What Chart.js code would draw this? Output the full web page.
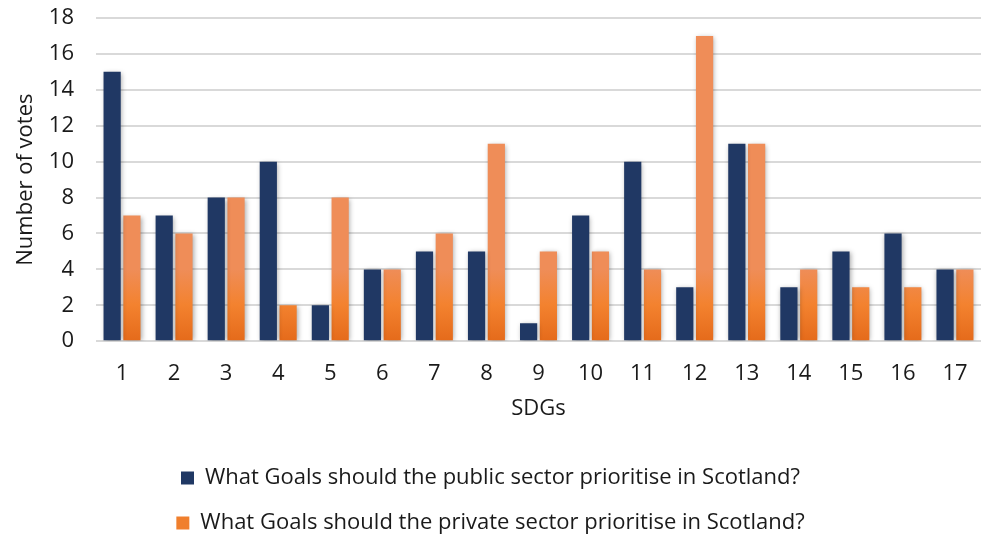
<!DOCTYPE html>
<html>
<head>
<meta charset="utf-8">
<script src="https://cdn.jsdelivr.net/npm/chart.js@4"></script>
<style>
html,body{margin:0;padding:0;background:#fff;}
#wrap{width:996px;height:537px;}
</style>
</head>
<body>
<div id="wrap"><canvas id="c" width="996" height="537"></canvas></div>
<script>
const categories = ['1','2','3','4','5','6','7','8','9','10','11','12','13','14','15','16','17'];
const publicVotes = [15,7,8,10,2,4,5,5,1,7,10,3,11,3,5,6,4];
const privateVotes = [7,6,8,2,8,4,6,11,5,5,4,17,11,4,3,3,4];
const seriesNames = ['What Goals should the public sector prioritise in Scotland?','What Goals should the private sector prioritise in Scotland?'];

const FONT = '"Open Sans", Roboto, sans-serif';
const FS = 22;

const barStyle = {
  id: 'barStyle',
  beforeDraw(chart) {
    if (chart.legend && !chart.legend._shifted) {
      chart.legend.top += 7;
      chart.legend.bottom += 7;
      chart.legend._shifted = true;
    }
  },
  beforeDatasetDraw(chart, args) {
    const ctx = chart.ctx;
    const meta = args.meta;
    if (args.index === 1) {
      meta.data.forEach(el => {
        const g = ctx.createLinearGradient(0, el.y, 0, el.base);
        g.addColorStop(0, '#ef8d58');
        g.addColorStop(0.5, '#f3822f');
        g.addColorStop(1, '#e56b1b');
        el.options.backgroundColor = g;
      });
    }
    ctx.save();
    ctx.shadowColor = 'rgba(0,0,0,0.35)';
    ctx.shadowBlur = 5;
    ctx.shadowOffsetX = 1;
    ctx.shadowOffsetY = 1;
  },
  afterDatasetDraw(chart) {
    chart.ctx.restore();
  }
};

new Chart(document.getElementById('c'), {
  type: 'bar',
  data: {
    labels: categories,
    datasets: [
      { label: seriesNames[0], data: publicVotes, backgroundColor: '#203864', borderWidth: 0 },
      { label: seriesNames[1], data: privateVotes, backgroundColor: '#f07f2d', borderWidth: 0 }
    ]
  },
  options: {
    responsive: false,
    animation: false,
    devicePixelRatio: 1,
    layout: { padding: { left: 0, right: 15, top: 18, bottom: 0 } },
    datasets: { bar: { categoryPercentage: 0.76, barPercentage: 0.87 } },
    scales: {
      x: {
        grid: { display: false, drawTicks: false },
        border: { display: false },
        ticks: { color: '#1a1a1a', font: { family: FONT, size: FS }, padding: 19 },
        title: { display: true, text: 'SDGs', color: '#1a1a1a', font: { family: FONT, size: FS }, padding: { top: -10, bottom: 15 } },
        afterFit(scale) { scale.paddingLeft = 0; scale.paddingRight = 0; }
      },
      y: {
        min: 0, max: 18,
        ticks: { stepSize: 2, color: '#1a1a1a', font: { family: FONT, size: FS }, padding: 22 },
        grid: { color: '#d9d9d9', lineWidth: 2, drawTicks: false },
        border: { display: true, color: '#c9c9c9', width: 0 },
        title: { display: true, text: 'Number of votes', color: '#1a1a1a', font: { family: FONT, size: FS }, padding: { top: 13, bottom: 6 } },
        afterFit(scale) { scale.width = 96; scale.paddingTop = 0; scale.paddingBottom = 0; }
      }
    },
    plugins: {
      legend: {
        position: 'bottom',
        labels: {
          color: '#1a1a1a',
          font: { family: FONT, size: FS },
          boxWidth: 13, boxHeight: 13,
          padding: 23
        }
      },
      tooltip: { enabled: false }
    }
  },
  plugins: [barStyle]
});
</script>
</body>
</html>
